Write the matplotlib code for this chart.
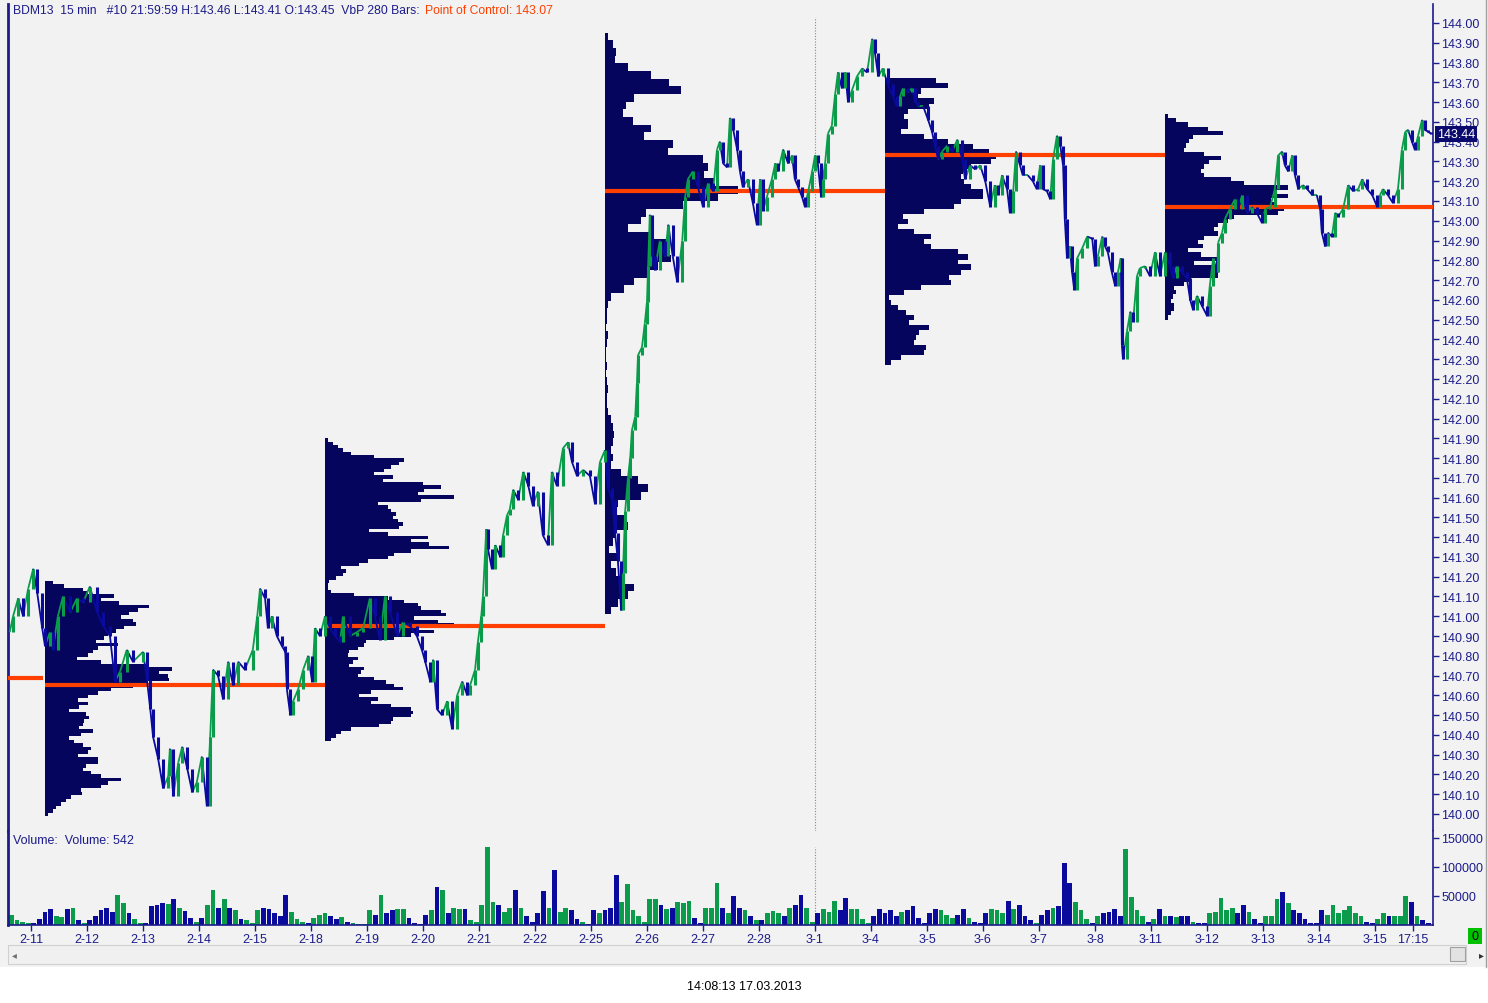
import numpy as np
import matplotlib.pyplot as plt
from matplotlib.collections import LineCollection
from matplotlib.patches import Rectangle

plt.rcParams['font.family'] = ['Liberation Sans', 'DejaVu Sans']

NAVY = '#1c1c8a'
PROF = '#05055e'
UP = '#0a9c4a'
DN = '#0a0a9c'
POC_C = '#ff4000'
BG = '#f2f2f2'

# trading days on the x axis (0 = 2-11)
day_labels = ['2-11', '2-12', '2-13', '2-14', '2-15', '2-18', '2-19', '2-20', '2-21', '2-22',
              '2-25', '2-26', '2-27', '2-28', '3-1', '3-4', '3-5', '3-6', '3-7', '3-8',
              '3-11', '3-12', '3-13', '3-14', '3-15']
last_label = ('17:15', 24.68)

# price path (time in trading days, price)
price_path = [
    (-0.38, 140.92), (-0.32, 141.00), (-0.23, 141.09), (-0.14, 141.00), (-0.05, 141.14), (0.04, 141.24),
    (0.11, 141.12), (0.20, 140.94), (0.25, 140.85), (0.34, 140.92), (0.39, 140.83), (0.48, 141.00),
    (0.57, 141.10), (0.70, 141.02), (0.82, 141.09), (0.93, 141.07), (1.05, 141.15), (1.18, 141.02),
    (1.29, 140.95), (1.41, 140.90), (1.50, 140.67), (1.59, 140.72), (1.71, 140.83), (1.82, 140.77),
    (2.00, 140.82), (2.07, 140.68), (2.13, 140.53), (2.18, 140.39), (2.27, 140.28), (2.36, 140.13),
    (2.45, 140.19), (2.48, 140.33), (2.54, 140.09), (2.63, 140.26), (2.70, 140.34), (2.79, 140.23),
    (2.88, 140.11), (2.96, 140.16), (3.05, 140.29), (3.14, 140.04), (3.20, 140.39), (3.25, 140.73),
    (3.34, 140.70), (3.43, 140.58), (3.52, 140.77), (3.61, 140.65), (3.70, 140.77), (3.82, 140.73),
    (3.96, 140.83), (4.04, 141.00), (4.09, 141.14), (4.18, 141.09), (4.23, 140.94), (4.30, 141.00),
    (4.39, 140.90), (4.48, 140.85), (4.54, 140.82), (4.57, 140.63), (4.63, 140.50), (4.68, 140.57),
    (4.77, 140.63), (4.86, 140.73), (4.95, 140.80), (5.02, 140.67), (5.07, 140.94), (5.16, 140.90),
    (5.25, 141.00), (5.34, 140.94), (5.43, 140.90), (5.52, 140.87), (5.57, 141.00), (5.70, 140.90),
    (5.82, 140.92), (5.93, 140.94), (6.05, 141.09), (6.14, 141.00), (6.23, 140.88), (6.32, 141.10),
    (6.41, 141.02), (6.54, 140.90), (6.64, 140.97), (6.77, 140.95), (6.89, 140.90), (6.98, 140.83),
    (7.04, 140.77), (7.13, 140.67), (7.18, 140.78), (7.25, 140.53), (7.34, 140.50), (7.43, 140.57),
    (7.52, 140.43), (7.61, 140.60), (7.70, 140.67), (7.79, 140.60), (7.84, 140.65), (7.93, 140.73),
    (7.98, 140.87), (8.04, 141.00), (8.07, 141.10), (8.13, 141.44), (8.16, 141.34), (8.23, 141.24),
    (8.29, 141.36), (8.38, 141.30), (8.43, 141.41), (8.50, 141.51), (8.55, 141.54), (8.61, 141.64),
    (8.70, 141.59), (8.79, 141.73), (8.88, 141.66), (8.96, 141.56), (9.05, 141.63), (9.14, 141.41),
    (9.23, 141.36), (9.30, 141.73), (9.39, 141.66), (9.50, 141.85), (9.59, 141.88), (9.66, 141.78),
    (9.75, 141.71), (9.86, 141.74), (9.98, 141.71), (10.07, 141.57), (10.16, 141.78), (10.25, 141.84),
    (10.30, 141.65), (10.38, 141.59), (10.43, 141.42), (10.48, 141.28), (10.54, 141.03), (10.57, 141.22),
    (10.61, 141.53), (10.66, 141.70), (10.70, 141.80), (10.73, 141.94), (10.79, 142.01), (10.82, 142.18),
    (10.84, 142.32), (10.91, 142.36), (10.96, 142.48), (11.00, 142.59), (11.02, 142.77), (11.05, 143.03),
    (11.09, 142.82), (11.14, 142.75), (11.23, 142.90), (11.32, 142.82), (11.38, 142.98), (11.46, 142.82),
    (11.54, 142.69), (11.63, 142.90), (11.68, 143.12), (11.73, 143.21), (11.82, 143.25), (11.91, 143.17),
    (12.00, 143.07), (12.09, 143.19), (12.18, 143.15), (12.25, 143.36), (12.30, 143.40), (12.36, 143.29),
    (12.43, 143.27), (12.48, 143.52), (12.54, 143.46), (12.61, 143.36), (12.66, 143.25), (12.71, 143.17),
    (12.80, 143.21), (12.89, 143.09), (12.96, 142.98), (13.02, 143.21), (13.07, 143.05), (13.14, 143.12),
    (13.23, 143.21), (13.29, 143.29), (13.34, 143.25), (13.43, 143.36), (13.52, 143.29), (13.59, 143.33),
    (13.64, 143.21), (13.70, 143.17), (13.77, 143.12), (13.82, 143.07), (13.88, 143.15), (13.95, 143.25),
    (14.00, 143.33), (14.05, 143.29), (14.11, 143.12), (14.14, 143.21), (14.18, 143.29), (14.23, 143.44),
    (14.30, 143.48), (14.36, 143.64), (14.41, 143.75), (14.48, 143.67), (14.54, 143.75), (14.59, 143.60),
    (14.66, 143.66), (14.75, 143.73), (14.84, 143.77), (14.93, 143.75), (15.02, 143.92), (15.07, 143.85),
    (15.13, 143.73), (15.21, 143.77), (15.30, 143.69), (15.39, 143.63), (15.46, 143.58), (15.52, 143.63),
    (15.57, 143.67), (15.66, 143.65), (15.73, 143.67), (15.79, 143.60), (15.84, 143.58), (15.93, 143.58),
    (16.02, 143.51), (16.09, 143.45), (16.14, 143.38), (16.20, 143.31), (16.27, 143.35), (16.36, 143.38),
    (16.45, 143.35), (16.54, 143.41), (16.63, 143.31), (16.68, 143.21), (16.77, 143.28), (16.86, 143.26),
    (16.95, 143.28), (17.04, 143.20), (17.13, 143.07), (17.21, 143.18), (17.27, 143.13), (17.34, 143.23),
    (17.43, 143.16), (17.48, 143.04), (17.54, 143.15), (17.59, 143.35), (17.66, 143.28), (17.71, 143.23),
    (17.80, 143.23), (17.89, 143.20), (17.96, 143.16), (18.02, 143.28), (18.07, 143.16), (18.14, 143.15),
    (18.20, 143.11), (18.25, 143.31), (18.32, 143.43), (18.38, 143.38), (18.43, 143.28), (18.46, 143.01),
    (18.50, 142.81), (18.55, 142.87), (18.59, 142.74), (18.63, 142.65), (18.68, 142.81), (18.77, 142.86),
    (18.86, 142.92), (18.95, 142.91), (19.00, 142.77), (19.05, 142.82), (19.13, 142.92), (19.18, 142.87),
    (19.23, 142.84), (19.30, 142.74), (19.36, 142.67), (19.41, 142.74), (19.46, 142.81), (19.48, 142.37),
    (19.50, 142.30), (19.57, 142.44), (19.63, 142.54), (19.68, 142.49), (19.75, 142.72), (19.80, 142.76),
    (19.89, 142.77), (19.98, 142.72), (20.07, 142.84), (20.16, 142.72), (20.25, 142.84), (20.34, 142.77),
    (20.39, 142.71), (20.46, 142.77), (20.55, 142.74), (20.64, 142.71), (20.70, 142.60), (20.75, 142.55),
    (20.82, 142.62), (20.91, 142.57), (21.00, 142.52), (21.05, 142.67), (21.11, 142.81), (21.18, 142.74),
    (21.20, 142.89), (21.27, 142.94), (21.32, 143.01), (21.41, 143.06), (21.50, 143.11), (21.55, 143.06),
    (21.63, 143.13), (21.71, 143.04), (21.80, 143.07), (21.89, 143.04), (21.98, 142.99), (22.04, 143.06),
    (22.13, 143.07), (22.21, 143.16), (22.27, 143.33), (22.34, 143.35), (22.39, 143.28), (22.45, 143.25),
    (22.52, 143.33), (22.57, 143.23), (22.63, 143.16), (22.71, 143.18), (22.79, 143.16), (22.88, 143.13),
    (22.96, 143.13), (23.02, 143.06), (23.05, 142.94), (23.11, 142.87), (23.16, 142.94), (23.23, 142.92),
    (23.29, 143.04), (23.34, 143.02), (23.43, 143.06), (23.52, 143.18), (23.61, 143.15), (23.70, 143.16),
    (23.77, 143.21), (23.86, 143.16), (23.95, 143.13), (24.04, 143.07), (24.09, 143.13), (24.14, 143.16),
    (24.23, 143.13), (24.32, 143.09), (24.41, 143.16), (24.48, 143.36), (24.54, 143.45), (24.59, 143.46),
    (24.66, 143.40), (24.71, 143.36), (24.77, 143.43), (24.84, 143.51), (24.89, 143.46), (24.95, 143.45),
    (25.00, 143.44),
]
last_price = 143.44

# weekly volume-by-price profiles (relative volume per row, top row first)
prof_start = [0.25, 5.25, 10.25, 15.25, 20.25]
prof_top = [141.18, 141.90, 143.95, 143.72, 143.54]
prof_bottom = [139.99, 140.37, 141.01, 142.27, 142.50]
prof_wk1 = [8, 19, 38, 43, 69, 56, 74, 104, 93, 84, 76, 88, 91, 79, 71, 63, 59, 51, 73, 53,
            48, 43, 32, 56, 104, 127, 114, 123, 124, 103, 88, 66, 53, 43, 33, 43, 34, 24, 41, 44,
            39, 38, 34, 48, 36, 24, 29, 38, 46, 43, 33, 53, 53, 41, 38, 46, 56, 76, 63, 56,
            36, 37, 26, 21, 16, 11, 8, 3]
prof_wk2 = [3, 8, 13, 18, 26, 49, 79, 74, 66, 59, 49, 68, 58, 98, 116, 99, 93, 129, 96, 53,
            63, 66, 71, 68, 73, 78, 74, 44, 63, 103, 86, 104, 124, 86, 69, 63, 43, 34, 16, 21,
            18, 11, 4, 3, 3, 6, 29, 63, 79, 93, 96, 116, 121, 89, 113, 129, 93, 109, 86, 69,
            41, 39, 33, 24, 23, 33, 28, 24, 39, 36, 33, 49, 61, 69, 78, 46, 34, 53, 46, 66,
            86, 88, 86, 68, 66, 54, 26, 16, 11, 6]
prof_wk3 = [3, 8, 11, 10, 23, 46, 64, 76, 29, 21, 18, 28, 46, 39, 68, 63, 98, 103, 99, 109,
            133, 113, 78, 41, 36, 23, 49, 61, 59, 66, 53, 44, 29, 19, 6, 3,
            2, 2, 1, 3, 2, 1, 1, 2, 1, 2, 3, 2, 2, 3,
            6, 8, 9, 8, 6, 8, 6, 16, 33, 43, 36, 13, 11, 19, 23, 11, 8, 4, 14, 6,
            11, 16, 29, 23, 13, 6]
prof_wk4 = [51, 63, 36, 33, 49, 44, 23, 19, 23, 23, 16, 39, 63, 88, 104, 111, 106, 86, 78, 76,
            79, 86, 98, 98, 76, 69, 39, 18, 23, 13, 29, 46, 39, 46, 73, 83, 73, 86, 76, 64,
            66, 36, 19, 4, 6, 13, 21, 29, 24, 44, 34, 31, 29, 41, 39, 16, 6]
prof_wk5 = [3, 11, 23, 43, 58, 28, 24, 21, 19, 39, 56, 44, 39, 36, 39, 66, 79, 123, 109, 123,
            106, 109, 119, 113, 69, 63, 53, 49, 53, 39, 33, 38, 23, 36, 53, 29, 51, 53, 53, 26,
            19, 9, 11, 8, 6, 9, 9, 6, 3]
profiles = [prof_wk1, prof_wk2, prof_wk3, prof_wk4, prof_wk5]
poc_prev = 140.69
poc = [140.65, 140.95, 143.15, 143.33, 143.07]

# 15 min volume, thousands of contracts (10 slots per day)
vol_pre = [18, 9, 6, 4]
vol_by_day = [
    [4, 10, 22, 28, 16, 14, 27, 30, 8, 3],
    [8, 15, 25, 30, 22, 52, 38, 20, 10, 4],
    [3, 32, 34, 38, 36, 45, 30, 24, 12, 5],
    [12, 35, 60, 30, 45, 30, 25, 10, 8, 4],
    [25, 30, 27, 20, 15, 52, 22, 10, 5, 3],
    [12, 18, 20, 15, 10, 14, 5, 3, 2, 2],
    [25, 18, 52, 20, 25, 28, 28, 12, 4, 2],
    [18, 25, 65, 60, 20, 30, 28, 28, 8, 5],
    [35, 134, 40, 35, 22, 30, 60, 30, 15, 5],
    [20, 58, 30, 94, 22, 30, 25, 10, 5, 2],
    [25, 20, 25, 30, 86, 40, 70, 25, 15, 5],
    [45, 45, 35, 28, 30, 40, 38, 42, 12, 4],
    [30, 30, 73, 30, 20, 50, 30, 25, 15, 8],
    [8, 20, 24, 20, 15, 30, 35, 52, 30, 6],
    [20, 28, 22, 42, 25, 46, 28, 28, 10, 4],
    [15, 28, 20, 25, 15, 22, 25, 33, 12, 4],
    [20, 28, 26, 18, 12, 18, 28, 12, 5, 3],
    [20, 28, 25, 20, 42, 28, 35, 15, 8, 4],
    [18, 26, 30, 32, 107, 72, 40, 25, 10, 4],
    [15, 20, 22, 28, 15, 131, 48, 25, 15, 5],
    [10, 27, 15, 15, 14, 15, 15, 5, 3, 3],
    [20, 22, 47, 25, 30, 20, 35, 22, 10, 3],
    [15, 15, 45, 57, 38, 25, 20, 10, 4, 3],
    [25, 18, 35, 20, 25, 33, 20, 15, 5, 3],
    [10, 20, 16, 15, 15, 50, 40, 15, 8, 3],
]

W, H = 1488, 1004
PX_DAY = 56.0  # pixels per trading day in the original layout


def frac(x0, y0, x1, y1):  # pixel box -> figure fraction rect
    return [x0 / W, 1 - y1 / H, (x1 - x0) / W, (y1 - y0) / H]


fig = plt.figure(figsize=(W / 100, H / 100), dpi=100)
fig.patch.set_facecolor('white')
fig.add_artist(Rectangle((0, 1 - 968 / H), 1, 968 / H, transform=fig.transFigure,
                         facecolor=BG, edgecolor='none', zorder=-10))

ax = fig.add_axes(frac(8, 5, 1433, 832))
axv = fig.add_axes(frac(8, 832, 1433, 926), sharex=ax)
xmin, xmax = (8 - 31) / PX_DAY, (1433 - 31) / PX_DAY

# --- price panel ---
t = np.array([a for a, b in price_path])
c = np.array([b for a, b in price_path])
up = c[1:] >= c[:-1]
cols = [UP if u else DN for u in up]
segs = np.stack([np.column_stack([t[:-1], c[:-1]]), np.column_stack([t[1:], c[1:]])], axis=1)
ax.add_collection(LineCollection(segs, colors=cols, linewidths=1.3, zorder=5))
# bar-like vertical strokes: each bar spans previous close to its close
bars = np.stack([np.column_stack([t[1:], c[:-1]]), np.column_stack([t[1:], c[1:]])], axis=1)
ax.add_collection(LineCollection(bars, colors=cols, linewidths=2.2, zorder=5))

for start, top, bot, widths in zip(prof_start, prof_top, prof_bottom, profiles):
    n = len(widths)
    step = (top - bot) / n
    centers = top - step * (np.arange(n) + 0.5)
    ax.barh(centers, np.array(widths) / PX_DAY, height=step * 1.02, left=start,
            color=PROF, linewidth=0, zorder=2)

ends = prof_start[1:] + [xmax]
for start, end, level in zip(prof_start, ends, poc):
    ax.plot([start, end], [level, level], color=POC_C, lw=3, solid_capstyle='butt', zorder=4)
ax.plot([xmin, prof_start[0] - 0.03], [poc_prev, poc_prev], color=POC_C, lw=3,
        solid_capstyle='butt', zorder=4)

ax.axvline(14.0, ymin=0, ymax=0.984, color='#888888', ls=(0, (1, 1.5)), lw=0.8, zorder=1)

ax.set_xlim(xmin, xmax)
ax.set_ylim(144 - 808 / 197.75, 144 + 19 / 197.75)
ax.set_facecolor(BG)
ax.yaxis.tick_right()
yt = np.round(np.arange(140.0, 144.001, 0.1), 2)
ax.set_yticks(yt)
ax.set_yticklabels([f'{v:.2f}' for v in yt])
ax.tick_params(axis='y', colors=NAVY, labelcolor=NAVY, labelsize=9, length=4, width=1, pad=2)
ax.tick_params(axis='x', bottom=False, labelbottom=False)
for s in ['top', 'bottom']:
    ax.spines[s].set_visible(False)
ax.spines['left'].set_color(NAVY)
ax.spines['left'].set_linewidth(2)
ax.spines['right'].set_color(NAVY)
ax.spines['right'].set_linewidth(1.2)

ax.annotate(f'{last_price:.2f}', xy=(1.003, last_price), xycoords=('axes fraction', 'data'),
            va='center', ha='left', fontsize=9, color='white', zorder=10,
            bbox=dict(boxstyle='square,pad=0.15', facecolor='#0a0a6e', edgecolor='none'),
            annotation_clip=False)

# --- volume panel ---
vx, vh = [], []
for j, v in enumerate(vol_pre):
    vx.append(-0.35 + 0.1 * j)
    vh.append(v)
for k, day in enumerate(vol_by_day):
    for j, v in enumerate(day):
        vx.append(k + 0.05 + 0.1 * j)
        vh.append(v)
vx = np.array(vx)
vh = np.array(vh) * 1000
vcols = [UP if np.interp(x + 0.05, t, c) >= np.interp(x - 0.05, t, c) else DN for x in vx]
axv.bar(vx, vh, width=0.085, color=vcols, linewidth=0, zorder=2)
axv.axvline(14.0, ymin=0, ymax=0.83, color='#888888', ls=(0, (1, 1.5)), lw=0.8, zorder=1)

axv.set_ylim(0, 94 * 1724)
axv.set_facecolor(BG)
axv.yaxis.tick_right()
axv.set_yticks([50000, 100000, 150000])
axv.set_yticklabels(['50000', '100000', '150000'])
axv.tick_params(axis='y', colors=NAVY, labelcolor=NAVY, labelsize=9, length=4, width=1, pad=2)
axv.set_xticks(list(range(len(day_labels))) + [last_label[1]])
axv.set_xticklabels(day_labels + [last_label[0]])
axv.tick_params(axis='x', colors=NAVY, labelcolor=NAVY, labelsize=9, length=4, width=1, pad=2)
axv.spines['top'].set_visible(False)
for s in ['left', 'right', 'bottom']:
    axv.spines[s].set_color(NAVY)
axv.spines['left'].set_linewidth(2)
axv.spines['right'].set_linewidth(1.2)
axv.spines['bottom'].set_linewidth(1.2)
axv.text(5 / 1425, 0.9, 'Volume:  Volume: 542', transform=axv.transAxes, color=NAVY,
         fontsize=9, va='center', ha='left')

# --- header text ---
r = fig.canvas.get_renderer()
t1 = fig.text(13 / W, 1 - 11 / H, 'BDM13  15 min   #10 21:59:59 H:143.46 L:143.41 O:143.45  VbP 280 Bars:',
              color=NAVY, fontsize=8.7, va='center', ha='left')
bb = t1.get_window_extent(renderer=r)
fig.text((bb.x1 + 5) / W, 1 - 11 / H, 'Point of Control: 143.07', color=POC_C, fontsize=8.7,
         va='center', ha='left')

# --- scroll bar, status box, timestamp ---
fig.add_artist(Rectangle((8 / W, 1 - 965 / H), 1458 / W, 19 / H, transform=fig.transFigure,
                         facecolor='#f0f0f0', edgecolor='#d0d0d0', lw=0.8))
fig.add_artist(Rectangle((1450 / W, 1 - 962 / H), 15 / W, 14 / H, transform=fig.transFigure,
                         facecolor='#e2e2e2', edgecolor='#a0a0a0', lw=0.8))
fig.text(14 / W, 1 - 955 / H, '\u25c2', fontsize=7, color='#707070', va='center', ha='center')
fig.text(1481 / W, 1 - 955 / H, '\u25b8', fontsize=7, color='#303030', va='center', ha='center')
fig.add_artist(Rectangle((1468 / W, 1 - 945 / H), 14 / W, 16 / H, transform=fig.transFigure,
                         facecolor='#00c000', edgecolor='none'))
fig.text(1475 / W, 1 - 937 / H, '0', fontsize=9, color='black', va='center', ha='center')
fig.add_artist(plt.Line2D([1486 / W, 1486 / W], [1 - 968 / H, 1], transform=fig.transFigure,
                          color='#a0a0a0', lw=1))

fig.text(744 / W, 1 - 987 / H, '14:08:13 17.03.2013', fontsize=9, color='black',
         va='center', ha='center')

fig.savefig('out.png', dpi=100, facecolor=fig.get_facecolor())
